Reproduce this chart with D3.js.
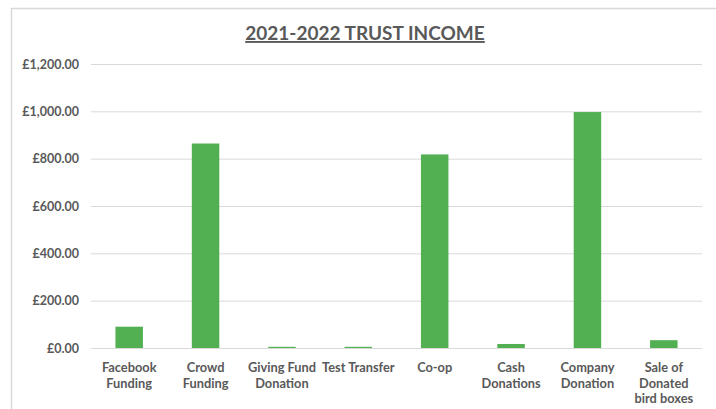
<!DOCTYPE html>
<html>
<head>
    <meta charset="utf-8">
    <title>2021-2022 Trust Income</title>
    <script src="https://d3js.org/d3.v7.min.js"></script>
    <style>
        body { margin: 0; background: #fff; }
    </style>
</head>
<body>
<div id="chart"></div>
<script>
    // data
    const categories = [
        ["Facebook", "Funding"],
        ["Crowd", "Funding"],
        ["Giving Fund", "Donation"],
        ["Test Transfer"],
        ["Co-op"],
        ["Cash", "Donations"],
        ["Company", "Donation"],
        ["Sale of", "Donated", "bird boxes"]
    ];
    const income = [90, 864, 5, 5, 818, 17, 997, 33];
    const yTicks = [0, 200, 400, 600, 800, 1000, 1200];
    const title = "2021-2022 TRUST INCOME";

    const W = 716, H = 409;
    const margin = {top: 64, right: 14, bottom: 61, left: 91};
    const w = W - margin.left - margin.right;
    const h = H - margin.top - margin.bottom;

    const svg = d3.select("#chart").append("svg")
        .attr("width", W)
        .attr("height", H);

    // chart frame (cut off at right and bottom like the screenshot)
    svg.append("rect")
        .attr("x", 11.5).attr("y", 8.5)
        .attr("width", W + 20).attr("height", H + 20)
        .attr("fill", "none")
        .attr("stroke", "#d9d9d9")
        .attr("stroke-width", 1.5);

    const g = svg.append("g")
        .attr("transform", "translate(" + margin.left + "," + margin.top + ")");

    const x = d3.scaleBand()
        .domain(d3.range(categories.length))
        .range([0, w])
        .paddingInner(0.64)
        .paddingOuter(0.32);

    const y = d3.scaleLinear()
        .domain([0, 1200])
        .range([h, 0]);

    const fmt = v => "£" + d3.format(",.2f")(v);

    // gridlines + y labels
    const yAxis = d3.axisLeft(y)
        .tickValues(yTicks)
        .tickSize(-w)
        .tickPadding(12)
        .tickFormat(fmt);

    const ya = g.append("g").call(yAxis);
    ya.select(".domain").remove();
    ya.selectAll(".tick line")
        .attr("stroke", "#d9d9d9")
        .attr("stroke-width", 1);
    ya.selectAll(".tick text")
        .attr("fill", "#595959")
        .attr("font-family", "Lato, 'Open Sans', sans-serif")
        .attr("font-weight", "bold")
        .attr("font-size", "12.5px");

    // bars
    g.selectAll("rect.bar")
        .data(income)
        .enter()
        .append("rect")
            .attr("class", "bar")
            .attr("x", (d, i) => x(i))
            .attr("y", d => y(d))
            .attr("width", x.bandwidth())
            .attr("height", d => Math.max(1, h - y(d)))
            .attr("fill", "#52b053");

    // category labels
    const labels = g.selectAll("text.cat")
        .data(categories)
        .enter()
        .append("text")
            .attr("class", "cat")
            .attr("text-anchor", "middle")
            .attr("fill", "#595959")
            .attr("font-family", "Lato, 'Open Sans', sans-serif")
            .attr("font-weight", "bold")
            .attr("font-size", "12.8px")
            .attr("transform", (d, i) => "translate(" + (x(i) + x.bandwidth() / 2) + "," + (h + 24) + ")");

    labels.selectAll("tspan")
        .data(d => d)
        .enter()
        .append("tspan")
            .attr("x", 0)
            .attr("dy", (d, i) => i === 0 ? 0 : 15.5)
            .text(d => d);

    // title
    svg.append("text")
        .attr("x", 365)
        .attr("y", 40)
        .attr("text-anchor", "middle")
        .attr("fill", "#595959")
        .attr("font-family", "Lato, 'Open Sans', sans-serif")
        .attr("font-weight", "bold")
        .attr("font-size", "19px")
        .attr("text-decoration", "underline")
        .text(title);
</script>
</body>
</html>
